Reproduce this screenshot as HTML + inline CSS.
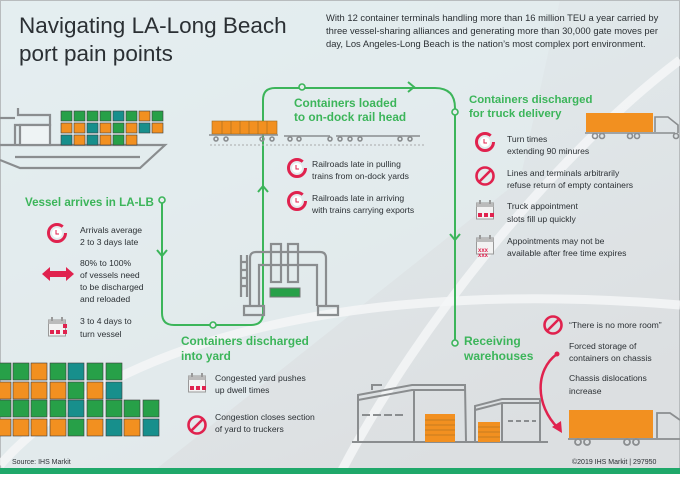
<!DOCTYPE html>
<html><head><meta charset="utf-8"><style>
html,body{margin:0;padding:0}
body{width:680px;height:474px;overflow:hidden;font-family:"Liberation Sans",sans-serif}
svg text{font-family:"Liberation Sans",sans-serif}
</style></head><body>
<svg width="680" height="474" viewBox="0 0 680 474" xmlns="http://www.w3.org/2000/svg">
<defs>
<linearGradient id="bg" x1="0" y1="0" x2="0.6" y2="1">
<stop offset="0" stop-color="#e4eef1"/><stop offset="1" stop-color="#dcdfe1"/>
</linearGradient>
<g id="clock"><circle r="8.5" fill="none" stroke="#e0224e" stroke-width="3" stroke-dasharray="46 8"/><circle r="5" fill="#fff"/><path d="M-1 -3v4h3" stroke="#e0224e" stroke-width="1" fill="none"/></g>
<g id="ban"><circle r="8.5" fill="none" stroke="#e0224e" stroke-width="2.6"/><path d="M-6 6L6 -6" stroke="#e0224e" stroke-width="2.6"/></g>
<g id="cal"><rect x="-8.5" y="-7" width="17" height="16" fill="#f2f2f2" stroke="#999" stroke-width="1"/><rect x="-8.5" y="-7" width="17" height="4" fill="#bbb"/><rect x="-6" y="-10" width="2" height="4" fill="#999"/><rect x="4" y="-10" width="2" height="4" fill="#999"/></g>
</defs>
<rect width="680" height="474" fill="url(#bg)"/>
<path d="M0 0H560L520 180 150 474H0Z" fill="#e5eef0" opacity="0.6"/>
<rect x="0.5" y="0.5" width="679" height="473" fill="none" stroke="#b8bcbe"/>
<path d="M340 474 C420 320 560 150 680 60" stroke="#f4f6f7" stroke-width="9" fill="none" opacity="0.85"/>
<path d="M0 465 C120 330 380 280 680 305" stroke="#f4f6f7" stroke-width="9" fill="none" opacity="0.85"/>
<rect x="0" y="468" width="680" height="6" fill="#1fa86a"/>

<text x="19" y="33" font-size="22.5" fill="#2b3034">Navigating LA-Long Beach</text>
<text x="19" y="61" font-size="22.5" fill="#2b3034">port pain points</text>
<g font-size="9.4" fill="#2b3034">
<text x="326" y="21">With 12 container terminals handling more than 16 million TEU a year carried by</text>
<text x="326" y="34">three vessel-sharing alliances and generating more than 30,000 gate moves per</text>
<text x="326" y="47">day, Los Angeles-Long Beach is the nation’s most complex port environment.</text>
</g>

<!-- ship -->
<g stroke="#8a8d8f" stroke-width="2.2" fill="none">
<path d="M0 145H165L140 168H20L0 160"/>
<path d="M15 157H140"/>
<path d="M15 145V125H50V115H18V108"/>
<rect x="20" y="125" width="30" height="20" fill="#eef3f4"/>
<path d="M0 118H15"/>
</g>
<g stroke="#3c3c3c" stroke-width="0.6">
<rect x="61" y="111" width="11" height="10" fill="#27a048"/><rect x="74" y="111" width="11" height="10" fill="#27a048"/><rect x="87" y="111" width="11" height="10" fill="#27a048"/><rect x="100" y="111" width="11" height="10" fill="#27a048"/><rect x="113" y="111" width="11" height="10" fill="#178f8c"/><rect x="126" y="111" width="11" height="10" fill="#27a048"/><rect x="139" y="111" width="11" height="10" fill="#f29020"/><rect x="152" y="111" width="11" height="10" fill="#27a048"/>
<rect x="61" y="123" width="11" height="10" fill="#f29020"/><rect x="74" y="123" width="11" height="10" fill="#f29020"/><rect x="87" y="123" width="11" height="10" fill="#178f8c"/><rect x="100" y="123" width="11" height="10" fill="#f29020"/><rect x="113" y="123" width="11" height="10" fill="#27a048"/><rect x="126" y="123" width="11" height="10" fill="#f29020"/><rect x="139" y="123" width="11" height="10" fill="#178f8c"/><rect x="152" y="123" width="11" height="10" fill="#f29020"/>
<rect x="61" y="135" width="11" height="10" fill="#178f8c"/><rect x="74" y="135" width="11" height="10" fill="#f29020"/><rect x="87" y="135" width="11" height="10" fill="#178f8c"/><rect x="100" y="135" width="11" height="10" fill="#f29020"/><rect x="113" y="135" width="11" height="10" fill="#27a048"/><rect x="126" y="135" width="11" height="10" fill="#f29020"/>
</g>

<!-- green flow line -->
<g stroke="#3cb55a" stroke-width="2" fill="none">
<path d="M162 203V313Q162 325 174 325H251Q263 325 263 313V100Q263 88 275 88H435Q455 88 455 108V340"/>
<path d="M157 250L162 256L167 250M258 192L263 186L268 192M408 82L414 87L408 92M450 234L455 240L460 234"/>
</g>
<g fill="#e6ecee" stroke="#3cb55a" stroke-width="1.6">
<circle cx="162" cy="200" r="3"/><circle cx="302" cy="87" r="3"/><circle cx="455" cy="112" r="3"/><circle cx="213" cy="325" r="3"/><circle cx="455" cy="343" r="3"/>
</g>

<text x="25" y="206" font-size="11.6" font-weight="bold" fill="#3cb55a">Vessel arrives in LA-LB</text>
<use href="#clock" x="57" y="233"/>
<g font-size="8.6" fill="#2b3034">
<text x="80" y="233">Arrivals average</text><text x="80" y="245">2 to 3 days late</text>
<text x="80" y="266">80% to 100%</text><text x="80" y="278">of vessels need</text><text x="80" y="290">to be discharged</text><text x="80" y="302">and reloaded</text>
<text x="80" y="324">3 to 4 days to</text><text x="80" y="337">turn vessel</text>
</g>
<path d="M42 274L50 267V271H66V267L74 274L66 281V277H50V281Z" fill="#e0224e"/>
<use href="#cal" x="57" y="327"/>
<g fill="#e0224e"><rect x="63" y="324" width="4" height="4"/><rect x="50" y="330" width="4" height="4"/><rect x="56" y="330" width="4" height="4"/><rect x="63" y="330" width="4" height="4"/></g>

<text x="294" y="107" font-size="11.8" font-weight="bold" fill="#3cb55a">Containers loaded</text>
<text x="294" y="121" font-size="11.8" font-weight="bold" fill="#3cb55a">to on-dock rail head</text>
<rect x="212" y="121" width="65" height="13" fill="#f29020" stroke="#9a6a20" stroke-width="0.6"/>
<g stroke="#9a6a20" stroke-width="0.6"><path d="M222 121v13M231 121v13M240 121v13M249 121v13M258 121v13M267 121v13"/></g>
<g stroke="#8a8d8f" stroke-width="1.6" fill="none">
<path d="M209 135H278M284 136H330M336 136H420"/>
<circle cx="216" cy="139" r="2"/><circle cx="226" cy="139" r="2"/><circle cx="262" cy="139" r="2"/><circle cx="272" cy="139" r="2"/>
<circle cx="290" cy="139" r="2"/><circle cx="299" cy="139" r="2"/><circle cx="330" cy="139" r="2"/><circle cx="340" cy="139" r="2"/>
<circle cx="350" cy="139" r="2"/><circle cx="360" cy="139" r="2"/><circle cx="400" cy="139" r="2"/><circle cx="410" cy="139" r="2"/>
</g>
<path d="M210 145H425" stroke="#aaa" stroke-width="1" stroke-dasharray="2 2"/>
<use href="#clock" x="297" y="168"/><use href="#clock" x="297" y="201"/>
<g font-size="8.6" fill="#2b3034">
<text x="312" y="167">Railroads late in pulling</text><text x="312" y="179">trains from on-dock yards</text>
<text x="312" y="201">Railroads late in arriving</text><text x="312" y="213">with trains carrying exports</text>
</g>

<text x="469" y="103" font-size="11.4" font-weight="bold" fill="#3cb55a">Containers discharged</text>
<text x="469" y="117" font-size="11.4" font-weight="bold" fill="#3cb55a">for truck delivery</text>
<rect x="586" y="113" width="67" height="19" fill="#f29020"/>
<g stroke="#8a8d8f" stroke-width="1.6" fill="none"><path d="M585 133H675M655 132V117H668L678 125V133"/><circle cx="595" cy="136" r="2.5"/><circle cx="602" cy="136" r="2.5"/><circle cx="630" cy="136" r="2.5"/><circle cx="637" cy="136" r="2.5"/><circle cx="676" cy="136" r="2.5"/></g>
<use href="#clock" x="485" y="142"/>
<use href="#ban" x="485" y="176"/>
<use href="#cal" x="485" y="210"/>
<g fill="#e0224e"><rect x="478" y="213" width="4" height="4"/><rect x="484" y="213" width="4" height="4"/><rect x="490" y="213" width="4" height="4"/></g>
<use href="#cal" x="485" y="245"/>
<text x="478" y="252" font-size="6" fill="#e0224e" font-weight="bold">xxx</text>
<text x="478" y="257" font-size="6" fill="#e0224e" font-weight="bold">xxx</text>
<g font-size="8.6" fill="#2b3034">
<text x="507" y="142">Turn times</text><text x="507" y="154">extending 90 minures</text>
<text x="507" y="176">Lines and terminals arbitrarily</text><text x="507" y="188">refuse return of empty containers</text>
<text x="507" y="209">Truck appointment</text><text x="507" y="222">slots fill up quickly</text>
<text x="507" y="244">Appointments may not be</text><text x="507" y="256">available after free time expires</text>
</g>

<!-- crane -->
<g stroke="#8a8d8f" stroke-width="2.2" fill="none">
<path d="M250 306V258Q250 252 256 252H320Q326 252 326 258V306"/>
<path d="M259 306V265H317V306"/>
<path d="M241 255V297M247 255V297M241 262h6M241 270h6M241 278h6M241 286h6"/>
<rect x="271" y="244" width="10" height="38"/><rect x="288" y="244" width="10" height="38"/>
<path d="M244 306H264V315H244ZM318 306H338V315H318Z"/>
</g>
<rect x="270" y="288" width="30" height="9" fill="#27a048" stroke="#777" stroke-width="1"/>

<text x="181" y="345" font-size="11.8" font-weight="bold" fill="#3cb55a">Containers discharged</text>
<text x="181" y="360" font-size="11.8" font-weight="bold" fill="#3cb55a">into yard</text>
<use href="#cal" x="197" y="383"/>
<g fill="#e0224e"><rect x="190" y="386" width="4" height="4"/><rect x="196" y="386" width="4" height="4"/><rect x="202" y="386" width="4" height="4"/></g>
<use href="#ban" x="197" y="425"/>
<g font-size="8.6" fill="#2b3034">
<text x="215" y="381">Congested yard pushes</text><text x="215" y="393">up dwell times</text>
<text x="215" y="420">Congestion closes section</text><text x="215" y="432">of yard to truckers</text>
</g>

<g stroke="#3c3c3c" stroke-width="0.6">
<rect x="-5" y="363" width="16" height="17" fill="#27a048"/><rect x="13" y="363" width="16" height="17" fill="#27a048"/><rect x="31" y="363" width="16" height="17" fill="#f29020"/><rect x="50" y="363" width="16" height="17" fill="#27a048"/><rect x="68" y="363" width="16" height="17" fill="#178f8c"/><rect x="87" y="363" width="16" height="17" fill="#27a048"/><rect x="106" y="363" width="16" height="17" fill="#27a048"/>
<rect x="-5" y="382" width="16" height="17" fill="#f29020"/><rect x="13" y="382" width="16" height="17" fill="#f29020"/><rect x="31" y="382" width="16" height="17" fill="#f29020"/><rect x="50" y="382" width="16" height="17" fill="#f29020"/><rect x="68" y="382" width="16" height="17" fill="#27a048"/><rect x="87" y="382" width="16" height="17" fill="#f29020"/><rect x="106" y="382" width="16" height="17" fill="#178f8c"/>
<rect x="-5" y="400" width="16" height="17" fill="#27a048"/><rect x="13" y="400" width="16" height="17" fill="#27a048"/><rect x="31" y="400" width="16" height="17" fill="#27a048"/><rect x="50" y="400" width="16" height="17" fill="#27a048"/><rect x="68" y="400" width="16" height="17" fill="#178f8c"/><rect x="87" y="400" width="16" height="17" fill="#27a048"/><rect x="106" y="400" width="16" height="17" fill="#27a048"/><rect x="124" y="400" width="16" height="17" fill="#27a048"/><rect x="143" y="400" width="16" height="17" fill="#27a048"/>
<rect x="-5" y="419" width="16" height="17" fill="#f29020"/><rect x="13" y="419" width="16" height="17" fill="#f29020"/><rect x="31" y="419" width="16" height="17" fill="#f29020"/><rect x="50" y="419" width="16" height="17" fill="#f29020"/><rect x="68" y="419" width="16" height="17" fill="#27a048"/><rect x="87" y="419" width="16" height="17" fill="#f29020"/><rect x="106" y="419" width="16" height="17" fill="#178f8c"/><rect x="124" y="419" width="16" height="17" fill="#f29020"/><rect x="143" y="419" width="16" height="17" fill="#178f8c"/>
</g>

<text x="464" y="345" font-size="12" font-weight="bold" fill="#3cb55a">Receiving</text>
<text x="464" y="360" font-size="12" font-weight="bold" fill="#3cb55a">warehouses</text>
<use href="#ban" x="553" y="325"/>
<g font-size="8.6" fill="#2b3034">
<text x="569" y="328">“There is no more room”</text>
<text x="569" y="349">Forced storage of</text><text x="569" y="361">containers on chassis</text>
<text x="569" y="381">Chassis dislocations</text><text x="569" y="394">increase</text>
</g>
<circle cx="557" cy="354" r="2.5" fill="#e0224e"/>
<path d="M557 354C535 370 535 405 558 428" stroke="#e0224e" stroke-width="2.5" fill="none"/>
<path d="M552 427L562 433L561 421Z" fill="#e0224e"/>

<g stroke="#8a8d8f" stroke-width="2" fill="none">
<path d="M352 442H548"/>
<path d="M358 442V395L412 385H465L466 442"/>
<path d="M358 400L412 390H465"/>
<path d="M372 390V385H382"/>
<path d="M475 442V406L502 399H540V442"/>
<path d="M475 410L502 403H540"/>
<path d="M414 390V442"/>
<path d="M502 403V442"/>
<path d="M362 415H405" stroke-dasharray="8 3"/>
<path d="M508 421H536" stroke-dasharray="5 3"/>
</g>
<rect x="425" y="414" width="30" height="28" fill="#f29020"/>
<g stroke="#9a6a20" stroke-width="0.6"><path d="M425 420h30M425 425h30M425 430h30M425 435h30"/></g>
<rect x="478" y="422" width="22" height="20" fill="#f29020"/>
<g stroke="#9a6a20" stroke-width="0.6"><path d="M478 427h22M478 432h22M478 437h22"/></g>

<rect x="569" y="410" width="84" height="28" fill="#f29020"/>
<g stroke="#8a8d8f" stroke-width="1.8" fill="none"><path d="M568 439H680M657 438V413H670L680 420"/><circle cx="578" cy="442" r="3"/><circle cx="587" cy="442" r="3"/><circle cx="627" cy="442" r="3"/><circle cx="636" cy="442" r="3"/></g>

<text x="12" y="464" font-size="7" fill="#2b3034">Source: IHS Markit</text>
<text x="572" y="464" font-size="7" fill="#2b3034">©2019 IHS Markit | 297950</text>
</svg>
</body></html>
